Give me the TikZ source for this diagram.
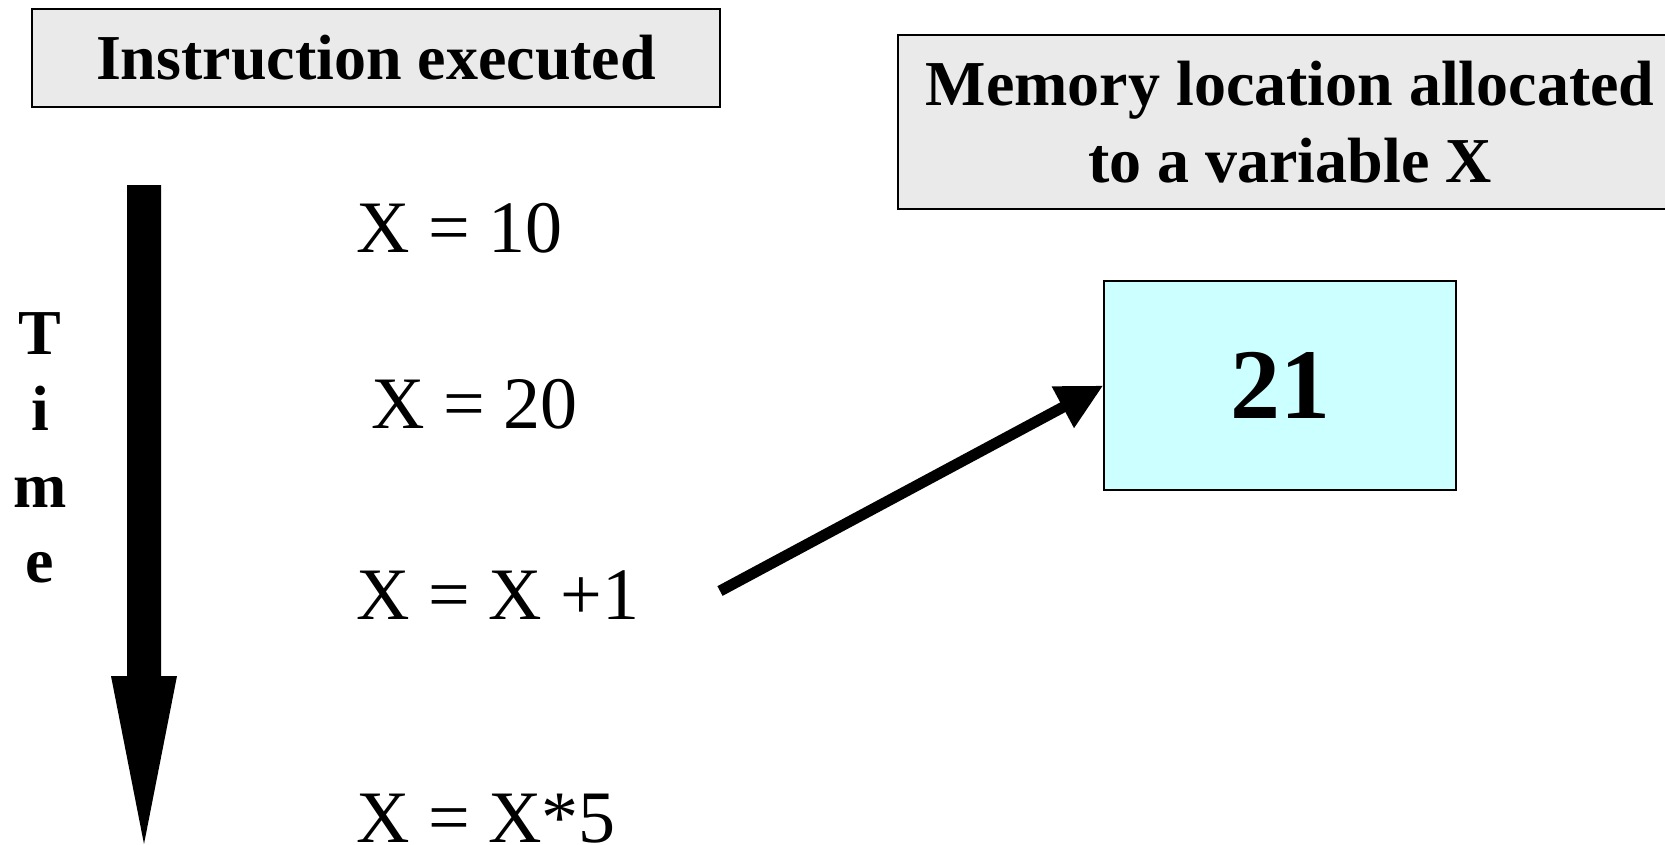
\documentclass[tikz,border=0pt]{standalone}
\usepackage{fontspec}
\setmainfont{Liberation Serif}
\usetikzlibrary{arrows.meta}
\definecolor{memfill}{HTML}{CCFFFF}
\definecolor{hdrfill}{HTML}{EAEAEA}
\begin{document}
\begin{tikzpicture}[x=1pt,y=-1pt,
  header/.style={draw=black, line width=1.3pt, fill=hdrfill, inner sep=0pt,
    align=center, font=\fontsize{64}{77}\selectfont\bfseries},
  formula/.style={anchor=base west, inner sep=0pt, font=\fontsize{74}{88}\selectfont},
  timeletter/.style={anchor=base, inner sep=0pt, font=\fontsize{64}{77}\selectfont\bfseries},
  membox/.style={draw=black, line width=1.3pt, fill=memfill, inner sep=0pt,
    minimum width=352pt, minimum height=209pt, font=\fontsize{100}{120}\selectfont\bfseries},
  timearrow/.style={fill=black, draw=none},
  ptrarrow/.style={line width=11pt, -{Triangle[length=46pt,width=44pt]}}
]
\useasboundingbox (0,0) rectangle (1665,844);
\node[header, minimum width=688pt, minimum height=98pt] (h1) at (376,58) {Instruction executed};
\node[header, minimum width=784pt, minimum height=174pt] (h2) at (1290,122) {Memory location allocated\\to a variable X};
\coordinate (ta) at (144,185);
\coordinate (tb) at (144,844);
\fill[timearrow] (127,185) -- (161,185) -- (161,676) -- (177,676) -- (tb) -- (111,676) -- (127,676) -- cycle;
\node[timeletter] (t1) at (40,354) {T};
\node[timeletter] (t2) at (40,430) {i};
\node[timeletter] (t3) at (40,507) {m};
\node[timeletter] (t4) at (40,582) {e};
\node[formula] (f1) at (356,252) {X = 10};
\node[formula] (f2) at (371,428) {X = 20};
\node[formula] (f3) at (356,619) {X = X +1};
\node[formula] (f4) at (356,842) {X = X*5};
\node[membox] (mem) at (1280,385.5) {21};
\coordinate (pa) at (720,591);
\draw[ptrarrow] (pa) -- (mem.west);
\end{tikzpicture}
\end{document}
